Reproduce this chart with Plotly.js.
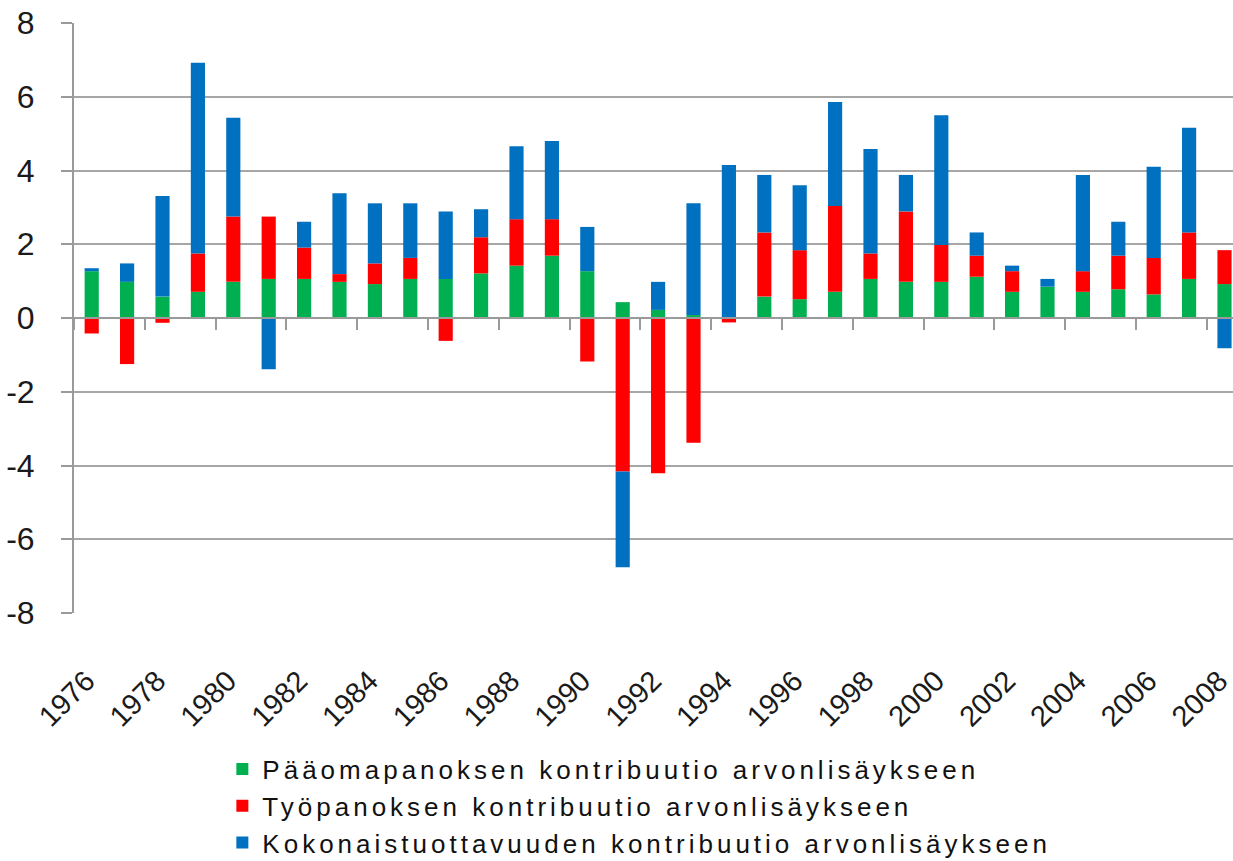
<!DOCTYPE html>
<html>
<head>
<meta charset="utf-8">
<script src="https://cdn.plot.ly/plotly-3.0.1.min.js"></script>
<style>html,body{margin:0;padding:0;background:#fff;}#chart{width:1233px;height:861px;}</style>
</head>
<body>
<div id="chart"></div>
<script>
const years = [1976,1977,1978,1979,1980,1981,1982,1983,1984,1985,1986,1987,1988,1989,1990,1991,1992,1993,1994,1995,1996,1997,1998,1999,2000,2001,2002,2003,2004,2005,2006,2007,2008];
const capital = [1.27,0.98,0.58,0.71,0.98,1.06,1.06,0.98,0.92,1.06,1.06,1.21,1.42,1.69,1.27,0.43,0.22,0.08,0.02,0.58,0.51,0.71,1.06,0.98,0.98,1.12,0.71,0.85,0.71,0.78,0.64,1.06,0.92];
const labour = [-0.42,-1.25,-0.13,1.04,1.77,1.69,0.85,0.21,0.56,0.57,-0.62,0.98,1.26,0.99,-1.18,-4.16,-4.21,-3.38,-0.12,1.74,1.33,2.33,0.69,1.91,1.00,0.57,0.56,0.00,0.56,0.91,0.99,1.26,0.92];
const tfp = [0.08,0.50,2.73,5.17,2.68,-1.39,0.70,2.19,1.63,1.48,1.83,0.76,1.98,2.12,1.20,-2.60,0.76,3.03,4.13,1.56,1.76,2.82,2.83,0.99,3.52,0.63,0.15,0.21,2.61,0.92,2.47,2.84,-0.82];
const seriesNames = ["Pääomapanoksen kontribuutio arvonlisäykseen","Työpanoksen kontribuutio arvonlisäykseen","Kokonaistuottavuuden kontribuutio arvonlisäykseen"];
const seriesColors = ["#00B050","#FF0000","#0070C0"];
const yTicks = [-8,-6,-4,-2,0,2,4,6,8];

const labelYears = years.filter((y,i)=>i%2===0);
const labelPos = labelYears.map(y=>y-0.15);
const boundaryTicks = labelYears.map(y=>y-0.5);
const xRange = [years[0]-0.5, years[years.length-1]+0.24];

const traces = [capital, labour, tfp].map((vals,i)=>({
  type:'bar', x:years, y:vals,
  name:'<span style="letter-spacing:4px">'+seriesNames[i]+'</span>',
  marker:{color:seriesColors[i], line:{width:0}},
  width:0.4, hoverinfo:'x+y'
}));
// empty helper trace so the zero-line axis (xaxis2) is drawn
traces.push({type:'scatter', x:[], y:[], xaxis:'x2', yaxis:'y', showlegend:false, hoverinfo:'skip'});

const FONT = '"Liberation Sans", Arial, sans-serif';
const layout = {
  width:1233, height:861,
  margin:{l:74, r:0, t:23, b:248, pad:0, autoexpand:false},
  paper_bgcolor:'#fff', plot_bgcolor:'#fff',
  barmode:'relative',
  font:{family:FONT, color:'#1a1a1a'},
  showlegend:true,
  legend:{orientation:'v', x:0.128, xanchor:'left', y:-0.2247, yanchor:'top',
          font:{size:26, family:FONT, color:'#111'}, tracegroupgap:0, itemwidth:30,
          bgcolor:'rgba(0,0,0,0)'},
  xaxis:{type:'linear', range:xRange, showgrid:false, zeroline:false, showline:false,
         tickmode:'array', tickvals:labelPos, ticktext:labelYears.map(String),
         tickangle:-45, ticks:'', ticklabelstandoff:44, ticklabeloverflow:'allow', automargin:false,
         tickfont:{size:29, family:FONT, color:'#1a1a1a'}},
  xaxis2:{type:'linear', range:xRange, overlaying:'x', anchor:'free', position:0.5, side:'bottom',
          showgrid:false, zeroline:false, showline:true, linecolor:'#9a9a9a', linewidth:2,
          showticklabels:false, tickmode:'array', tickvals:boundaryTicks, automargin:false,
          ticks:'outside', ticklen:11, tickwidth:2, tickcolor:'#9a9a9a'},
  yaxis:{range:[-8,8], tickmode:'array', tickvals:yTicks, ticktext:yTicks.map(String),
         showgrid:true, gridcolor:'#a6a6a6', gridwidth:2, zeroline:false, automargin:false,
         showline:true, linecolor:'#9a9a9a', linewidth:2,
         ticks:'outside', ticklen:11, tickwidth:2, tickcolor:'#9a9a9a',
         ticklabelstandoff:20, tickfont:{size:32, family:FONT, color:'#1a1a1a'}}
};

Plotly.newPlot('chart', traces, layout, {displayModeBar:false, staticPlot:true});
</script>
</body>
</html>
